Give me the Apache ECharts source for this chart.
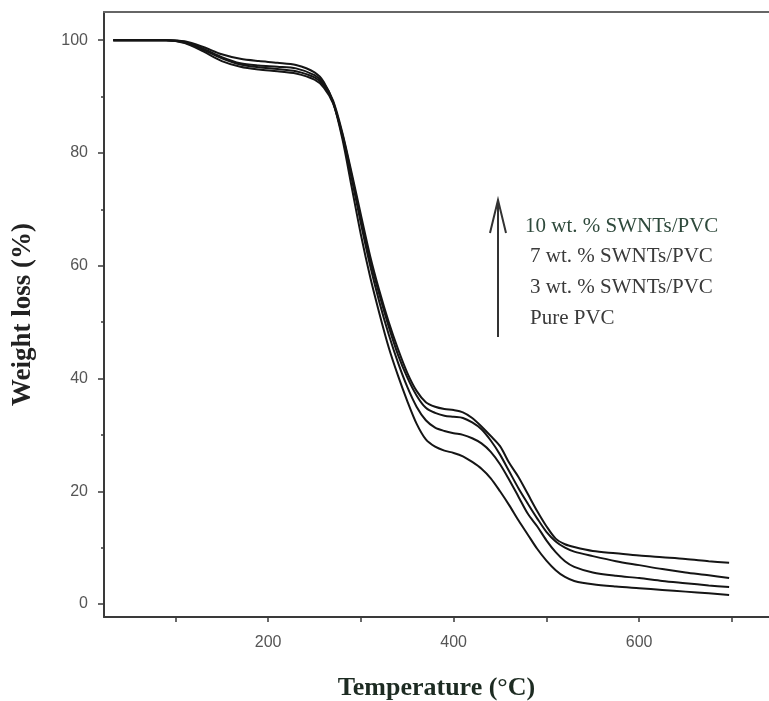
<!DOCTYPE html>
<html>
<head>
  <meta charset="utf-8" />
  <title>TGA PVC / SWNTs</title>
  <style>
    html, body { margin: 0; padding: 0; background: #fff; }
    #main { width: 769px; height: 701px; }
  </style>
</head>
<body>
  <div id="main"></div>
  <script src="https://cdn.jsdelivr.net/npm/echarts@6.0.0/dist/echarts.min.js"></script>
  <script>
    // temperature (°C) sampled along the curves
    var temps = [33, 60, 90, 110, 130, 150, 170, 190, 210, 230, 250, 260, 270, 280, 290, 300, 310, 320, 330, 340,
      350, 360, 370, 380, 390, 400, 410, 420, 430, 440, 450, 460, 470, 480, 490, 500, 510, 520, 530, 550,
      575, 600, 625, 650, 675, 697];

    // weight (%)
    var purePVC = [100, 100, 100, 99.8, 98.8, 97.5, 96.7, 96.3, 96.0, 95.6, 94.3, 92.6, 89, 82.5, 74, 65.5, 58, 51.5, 45.5, 40.5,
      36, 32, 29.2, 27.9, 27.2, 26.8, 26.2, 25.2, 24, 22.3, 20, 17.5, 14.8, 12.3, 9.8, 7.7, 6.0, 4.8, 4.1, 3.5,
      3.1, 2.8, 2.5, 2.2, 1.9, 1.6];
    var wt3 = [100, 100, 100, 99.7, 98.3, 96.8, 95.7, 95.2, 94.9, 94.5, 93.4, 92, 89, 83, 75.5, 67.5, 60, 53.5, 47.8, 42.8,
      38.5, 35, 32.6, 31.3, 30.7, 30.3, 30.0, 29.4, 28.5, 27, 24.8, 22, 19, 16, 13.8, 11.3, 9.2, 7.6, 6.6, 5.6,
      5.0, 4.6, 4.1, 3.7, 3.3, 3.0];
    var wt7 = [100, 100, 100, 99.5, 98, 96.3, 95.3, 94.8, 94.5, 94.1, 93.0, 91.6, 88.8, 83.3, 76, 68.3, 61, 54.8, 49.2, 44.2,
      40.2, 37, 34.8, 33.9, 33.4, 33.2, 33, 32.2, 31, 29, 26.5, 23.5, 20.5, 17.8, 15.2, 12.8, 11.1, 10.0, 9.3, 8.5,
      7.6, 6.9, 6.2, 5.6, 5.1, 4.6];
    var wt10 = [100, 100, 100, 99.6, 98.5, 97, 95.9, 95.5, 95.3, 95, 93.8, 92.3, 89.3, 83.6, 76.5, 69, 61.7, 55.5, 50, 45.2,
      41, 37.8, 35.8, 35, 34.6, 34.4, 34.0, 33.0, 31.5, 29.8, 28, 25, 22.5, 19.5, 16.5, 13.8, 11.6, 10.6, 10.1, 9.4,
      9.0, 8.6, 8.3, 8.0, 7.6, 7.3];

    var xTicks = [100, 200, 300, 400, 500, 600, 700];
    var xLabels = [200, 400, 600];
    var yMajor = [0, 20, 40, 60, 80, 100];
    var yMinor = [10, 30, 50, 70, 90];
    var legendLines = ['10 wt. % SWNTs/PVC', '7 wt. % SWNTs/PVC', '3 wt. % SWNTs/PVC', 'Pure PVC'];

    function pairs(ys) {
      var out = [];
      for (var i = 0; i < temps.length; i++) {
        out.push([temps[i], ys[i]]);
      }
      return out;
    }

    var chart = echarts.init(document.getElementById('main'), null, { renderer: 'canvas' });

    var lineStyle = { color: '#151515', width: 2 };
    var serieses = [purePVC, wt3, wt7, wt10].map(function (ys) {
      return {
        type: 'line',
        data: pairs(ys),
        showSymbol: false,
        smooth: 0.3,
        lineStyle: lineStyle,
        xAxisIndex: 0,
        yAxisIndex: 0
      };
    });

    var axisColor = '#3a3a3a';
    var labelFont = { color: '#555', fontSize: 16, fontFamily: 'Liberation Sans, Arial, sans-serif' };

    // arrow + stacked labels (annotation in the plot)
    var graphics = [
      {
        type: 'line',
        shape: { x1: 498, y1: 202, x2: 498, y2: 337 },
        style: { stroke: '#333', lineWidth: 2 }
      },
      {
        type: 'polyline',
        shape: { points: [[490, 233], [498, 200], [506, 233]] },
        style: { stroke: '#333', lineWidth: 2, fill: null }
      }
    ];
    var textY = [226, 256, 287, 318];
    var textX = [525, 530, 530, 530];
    for (var i = 0; i < legendLines.length; i++) {
      graphics.push({
        type: 'text',
        x: textX[i],
        y: textY[i],
        style: {
          text: legendLines[i],
          fill: i === 0 ? '#2f4a3c' : '#3a3a3a',
          font: '21px "Liberation Serif", "Times New Roman", serif',
          verticalAlign: 'middle'
        }
      });
    }

    chart.setOption({
      animation: false,
      backgroundColor: '#fff',
      grid: { left: 104, top: 12, right: 0, bottom: 84, containLabel: false, outerBoundsMode: 'none' },
      xAxis: [
        {
          type: 'value',
          min: 23,
          max: 740,
          name: 'Temperature (°C)',
          nameLocation: 'middle',
          nameGap: 58,
          nameTextStyle: {
            color: '#1d2b22',
            fontSize: 26,
            fontWeight: 'bold',
            fontFamily: 'Liberation Serif, Times New Roman, serif'
          },
          axisLine: { show: true, onZero: false, lineStyle: { color: axisColor, width: 2 } },
          axisTick: { show: true, customValues: xTicks, length: 5, lineStyle: { color: axisColor, width: 1.5 } },
          axisLabel: Object.assign({ customValues: xLabels, margin: 18 }, labelFont),
          splitLine: { show: false }
        },
        {
          type: 'value',
          min: 23,
          max: 740,
          position: 'top',
          axisLine: { show: true, onZero: false, lineStyle: { color: '#666', width: 2 } },
          axisTick: { show: false },
          axisLabel: { show: false },
          splitLine: { show: false }
        }
      ],
      yAxis: [
        {
          type: 'value',
          min: -2.3,
          max: 105,
          name: 'Weight loss (%)',
          nameLocation: 'middle',
          nameGap: 67,
          nameTextStyle: {
            color: '#222',
            fontSize: 27,
            fontWeight: 'bold',
            fontFamily: 'Liberation Serif, Times New Roman, serif'
          },
          axisLine: { show: true, onZero: false, lineStyle: { color: axisColor, width: 2 } },
          axisTick: { show: true, customValues: yMajor, length: 6, lineStyle: { color: axisColor, width: 1.5 } },
          axisLabel: Object.assign({ customValues: yMajor, margin: 16 }, labelFont),
          splitLine: { show: false }
        },
        {
          type: 'value',
          min: -2.3,
          max: 105,
          position: 'left',
          axisLine: { show: false },
          axisTick: { show: true, customValues: yMinor, length: 3, lineStyle: { color: axisColor, width: 1.5 } },
          axisLabel: { show: false },
          splitLine: { show: false }
        }
      ],
      series: serieses,
      graphic: graphics
    });
  </script>
</body>
</html>
